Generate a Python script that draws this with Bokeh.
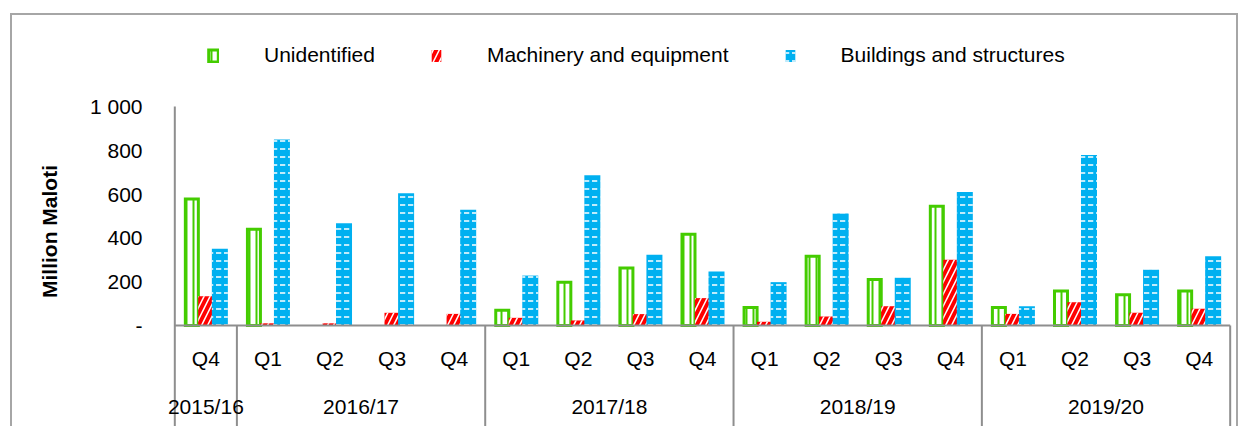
import math
from bokeh.plotting import figure
from bokeh.models import (FactorRange, Range1d, ColumnDataSource, FixedTicker,
                          Legend, LegendItem, CDSView, BooleanFilter)
from bokeh.transform import dodge
from bokeh.core.properties import value
from bokeh.embed import file_html
from bokeh.resources import INLINE

# ---------------- data ----------------
years = ["2015/16", "2016/17", "2017/18", "2018/19", "2019/20"]
quarters_by_year = [["Q4"],
                    ["Q1", "Q2", "Q3", "Q4"],
                    ["Q1", "Q2", "Q3", "Q4"],
                    ["Q1", "Q2", "Q3", "Q4"],
                    ["Q1", "Q2", "Q3", "Q4"]]
unidentified = [578, 440, 0, 0, 0, 70, 198, 263, 417, 82, 316, 210, 545, 82, 158, 140, 158]
machinery = [134, 10, 10, 58, 53, 35, 23, 52, 125, 17, 41, 88, 300, 53, 106, 58, 76]
buildings = [350, 849, 467, 604, 528, 228, 686, 323, 247, 198, 511, 218, 610, 88, 779, 254, 316]
series_names = ["Unidentified", "Machinery and equipment", "Buildings and structures"]
y_ticks = [0, 200, 400, 600, 800, 1000]
y_tick_labels = ["-", "200", "400", "600", "800", "1 000"]
y_title = "Million Maloti"

periods = [(y, q) for y, qs in zip(years, quarters_by_year) for q in qs]

# ---------------- layout ----------------
W, H = 1240, 426
frame_top = 36
zero_px = 325          # page y of value 0
top_px = 106           # page y of value 1000
ppu = (zero_px - top_px) / 1000.0
y_end = (zero_px - frame_top) / ppu
y_start = -(H - zero_px) / ppu
x_pad = 0.15           # factor units of padding on each side

FONT = "Liberation Sans"
GREY = "#8e8e8e"
GREEN = "#44cc00"
RED = "#ff0000"
BLUE = "#00b0f0"

p = figure(width=W, height=H,
           x_range=FactorRange(factors=periods, factor_padding=0, group_padding=0,
                               range_padding=x_pad, range_padding_units="absolute"),
           y_range=Range1d(y_start, y_end),
           output_backend="svg", toolbar_location=None, x_axis_location=None,
           min_border_left=165, min_border_right=1, min_border_top=frame_top,
           min_border_bottom=0,
           outline_line_color=None, background_fill_color=None, border_fill_color=None)
p.grid.grid_line_color = None
g = "linear-gradient(#a6a6a6, #a6a6a6)"
p.styles = {
    "background-image": f"{g}, {g}, {g}",
    "background-position": "10px 13px, 10px 13px, 1236px 13px",
    "background-size": "2px 600px, 1228px 2px, 2px 600px",
    "background-repeat": "no-repeat",
}

yax = p.yaxis[0]
yax.ticker = FixedTicker(ticks=y_ticks)
yax.major_label_overrides = {t: l for t, l in zip(y_ticks, y_tick_labels)}
yax.axis_line_color = None
yax.major_tick_line_color = None
yax.minor_tick_line_color = None
yax.major_label_standoff = 17
yax.major_label_text_font = FONT
yax.major_label_text_font_size = "21px"
yax.major_label_text_color = "#000000"
yax.axis_label = y_title
yax.axis_label_standoff = 26
yax.axis_label_text_font = FONT
yax.axis_label_text_font_size = "21px"
yax.axis_label_text_font_style = "bold"
yax.axis_label_text_color = "#000000"

src = ColumnDataSource(dict(x=periods, u=unidentified, m=machinery, b=buildings))
off = 14 / 62.06
bw = 16 / 62.06
u_view = CDSView(filter=BooleanFilter([v > 0 for v in unidentified]))

r_u = p.vbar(x=dodge("x", -off, range=p.x_range), top="u", width=13 / 62.06, source=src,
             view=u_view,
             fill_color="white", line_color=GREEN, line_width=3, line_join="miter",
             hatch_pattern="vertical_line", hatch_color=GREEN, hatch_scale=7,
             hatch_weight=2)
r_m = p.vbar(x=dodge("x", 0, range=p.x_range), top="m", width=0.95 * bw, source=src,
             fill_color=RED, line_color=None, hatch_pattern="right_diagonal_line",
             hatch_color="white", hatch_scale=12, hatch_weight=1.5)
r_b = p.vbar(x=dodge("x", off, range=p.x_range), top="b", width=bw, source=src,
             fill_color=BLUE, line_color=None, hatch_pattern="horizontal_dash",
             hatch_color="white", hatch_scale=8, hatch_weight=1.5)

# axis lines and group separators (category boundaries)
counts = [len(qs) for qs in quarters_by_year]
bounds = [0]
for c in counts:
    bounds.append(bounds[-1] + c)
n = bounds[-1]
p.segment(x0=[0], y0=[y_ticks[-1]], x1=[0], y1=[y_start], line_color=GREY, line_width=2)
p.segment(x0=[0], y0=[0], x1=[n], y1=[0], line_color=GREY, line_width=2)
p.segment(x0=bounds[1:], y0=0, x1=bounds[1:], y1=y_start, line_color=GREY, line_width=2)

# category labels
q_y = (zero_px - 358) / ppu
yr_y = (zero_px - 406) / ppu
p.text(x="x", y=q_y, text="q", source=ColumnDataSource(dict(x=periods, q=[q for _, q in periods])),
       text_font=value(FONT), text_font_size="21px", text_align="center",
       text_baseline="middle", text_color="#000000")
p.text(x="x", y=yr_y, text="t", source=ColumnDataSource(dict(x=years, t=years)),
       text_font=value(FONT), text_font_size="21px", text_align="center",
       text_baseline="middle", text_color="#000000")

legend = Legend(items=[LegendItem(label=series_names[0], renderers=[r_u]),
                       LegendItem(label=series_names[1], renderers=[r_m]),
                       LegendItem(label=series_names[2], renderers=[r_b])],
                orientation="horizontal", location=(42, 359),
                glyph_width=12, glyph_height=15, label_standoff=45, spacing=55,
                padding=0, margin=0, border_line_color=None, background_fill_alpha=0,
                label_text_font=FONT, label_text_font_size="21px", label_text_color="#000000")
p.add_layout(legend)

open("out.html", "w").write(file_html(p, INLINE))
